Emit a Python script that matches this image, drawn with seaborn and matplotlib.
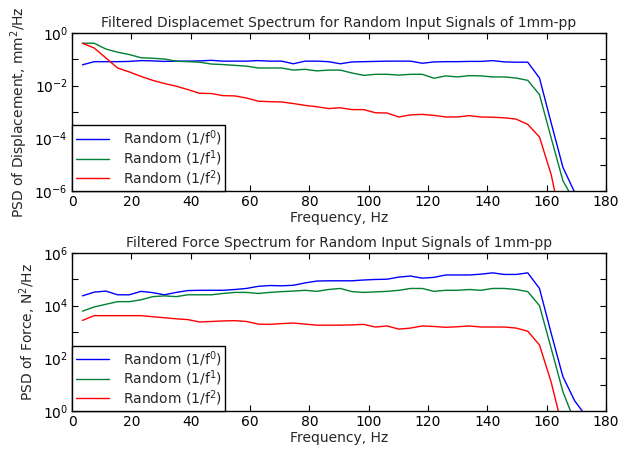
import numpy as np
import pandas as pd
import seaborn as sns
import matplotlib.pyplot as plt
from matplotlib.ticker import FixedLocator, NullLocator

# frequency grid (Hz)
freq = [3.5, 7.45, 11.4, 15.35, 19.3, 23.25, 27.2, 31.15, 35.1, 39.05,
        43.0, 46.95, 50.9, 54.85, 58.8, 62.75, 66.7, 70.65, 74.6, 78.55,
        82.5, 86.45, 90.4, 94.35, 98.3, 102.25, 106.2, 110.15, 114.1, 118.05,
        122.0, 125.95, 129.9, 133.85, 137.8, 141.75, 145.7, 149.65, 153.6, 157.55,
        161.5, 165.45, 169.4, 173.35]

# log10 of PSD, displacement (mm^2/Hz)
disp_f0 = [-1.21, -1.09, -1.09, -1.09, -1.08, -1.05, -1.06, -1.08, -1.07, -1.07,
           -1.06, -1.04, -1.07, -1.07, -1.07, -1.05, -1.07, -1.07, -1.17, -1.07,
           -1.07, -1.09, -1.17, -1.10, -1.09, -1.08, -1.07, -1.07, -1.07, -1.15,
           -1.10, -1.09, -1.09, -1.08, -1.08, -1.05, -1.10, -1.11, -1.11, -1.71,
           -3.42, -5.10, -6.05, -7.0]
disp_f1 = [-0.39, -0.39, -0.61, -0.73, -0.82, -0.94, -0.96, -0.99, -1.07, -1.09,
           -1.11, -1.18, -1.20, -1.23, -1.26, -1.33, -1.33, -1.33, -1.41, -1.38,
           -1.44, -1.41, -1.41, -1.52, -1.61, -1.57, -1.57, -1.60, -1.57, -1.57,
           -1.72, -1.63, -1.67, -1.62, -1.63, -1.67, -1.67, -1.71, -1.80, -2.34,
           -3.99, -5.61, -6.40, -7.0]
disp_f2 = [-0.39, -0.57, -0.95, -1.33, -1.48, -1.65, -1.80, -1.92, -2.02, -2.15,
           -2.29, -2.30, -2.38, -2.39, -2.47, -2.59, -2.61, -2.62, -2.68, -2.75,
           -2.80, -2.87, -2.84, -2.91, -2.91, -3.03, -3.04, -3.19, -3.11, -3.09,
           -3.13, -3.19, -3.19, -3.14, -3.19, -3.20, -3.22, -3.27, -3.47, -3.95,
           -5.38, -7.5, -9.0, -10.0]

# log10 of PSD, force (N^2/Hz)
force_f0 = [4.37, 4.51, 4.55, 4.41, 4.41, 4.54, 4.49, 4.41, 4.50, 4.57,
            4.58, 4.58, 4.58, 4.61, 4.65, 4.73, 4.76, 4.75, 4.77, 4.86,
            4.93, 4.94, 4.94, 4.94, 4.97, 4.99, 5.00, 5.08, 5.12, 5.04,
            5.07, 5.16, 5.16, 5.16, 5.19, 5.24, 5.18, 5.18, 5.24, 4.65,
            2.95, 1.31, 0.40, -0.2]
force_f1 = [3.79, 3.95, 4.05, 4.15, 4.15, 4.22, 4.34, 4.37, 4.34, 4.41,
            4.41, 4.41, 4.46, 4.50, 4.50, 4.46, 4.50, 4.53, 4.55, 4.58,
            4.54, 4.61, 4.65, 4.53, 4.50, 4.52, 4.54, 4.58, 4.65, 4.65,
            4.54, 4.58, 4.58, 4.61, 4.58, 4.65, 4.65, 4.61, 4.53, 4.00,
            2.38, 0.74, -0.39, -1.5]
force_f2 = [3.44, 3.62, 3.62, 3.62, 3.62, 3.62, 3.58, 3.54, 3.50, 3.47,
            3.38, 3.40, 3.42, 3.43, 3.40, 3.30, 3.29, 3.32, 3.34, 3.30,
            3.26, 3.26, 3.26, 3.27, 3.29, 3.19, 3.23, 3.11, 3.15, 3.23,
            3.21, 3.18, 3.20, 3.23, 3.19, 3.19, 3.19, 3.15, 3.03, 2.51,
            1.1, -0.7, -2.5, -4.0]

labels = ['Random (1/f$^0$)', 'Random (1/f$^1$)', 'Random (1/f$^2$)']
colors = ['#0000ff', '#008033', '#ff0000']

sns.set_style('ticks')
plt.rcParams['font.family'] = ['DejaVu Sans']
plt.rcParams['mathtext.fontset'] = 'dejavusans'
FS = 10


def long_df(series):
    rows = []
    for lab, vals in zip(labels, series):
        for f, v in zip(freq, vals):
            rows.append({'freq': f, 'psd': 10.0 ** v, 'series': lab})
    return pd.DataFrame(rows)


def draw(ax, series, ylo, yhi, title, ylabel):
    df = long_df(series)
    sns.lineplot(data=df, x='freq', y='psd', hue='series', palette=colors,
                 ax=ax, linewidth=1.0, sort=False)
    ax.set_yscale('log')
    ax.set_xlim(0, 180)
    ax.set_ylim(10.0 ** ylo, 10.0 ** yhi)
    ax.set_xticks(range(0, 181, 20))
    decades = list(range(ylo, yhi + 1))
    ax.yaxis.set_major_locator(FixedLocator([10.0 ** d for d in decades]))
    ax.yaxis.set_minor_locator(NullLocator())
    ax.set_yticklabels(['$10^{%d}$' % d if (d - ylo) % 2 == 0 else '' for d in decades])
    ax.tick_params(direction='in', top=True, right=True, length=4, width=0.8,
                   labelsize=FS, colors='black', pad=3)
    for s in ax.spines.values():
        s.set_visible(True)
        s.set_color('black')
        s.set_linewidth(1.0)
    ax.set_title(title, fontsize=FS, pad=4)
    ax.set_xlabel('Frequency, Hz', fontsize=FS, labelpad=1)
    ax.set_ylabel(ylabel, fontsize=FS, labelpad=3)
    # legend box sits in the lower-left corner, square MATLAB-style frame
    leg = ax.legend(loc='lower left', fontsize=FS, frameon=True, fancybox=False,
                    borderaxespad=0, framealpha=1, edgecolor='black',
                    handlelength=2.4, handletextpad=1.0, borderpad=0.25,
                    labelspacing=0.0)
    leg.get_frame().set_linewidth(1.0)


fig = plt.figure(figsize=(6.32, 4.49), dpi=100)
ax1 = fig.add_axes([0.114, 0.5746, 0.845, 0.352])
ax2 = fig.add_axes([0.114, 0.084, 0.845, 0.353])

draw(ax1, [disp_f0, disp_f1, disp_f2], -6, 0,
     'Filtered Displacemet Spectrum for Random Input Signals of 1mm-pp',
     'PSD of Displacement, mm$^2$/Hz')
draw(ax2, [force_f0, force_f1, force_f2], 0, 6,
     'Filtered Force Spectrum for Random Input Signals of 1mm-pp',
     'PSD of Force, N$^2$/Hz')

fig.savefig('out.png', dpi=100, facecolor='white')
